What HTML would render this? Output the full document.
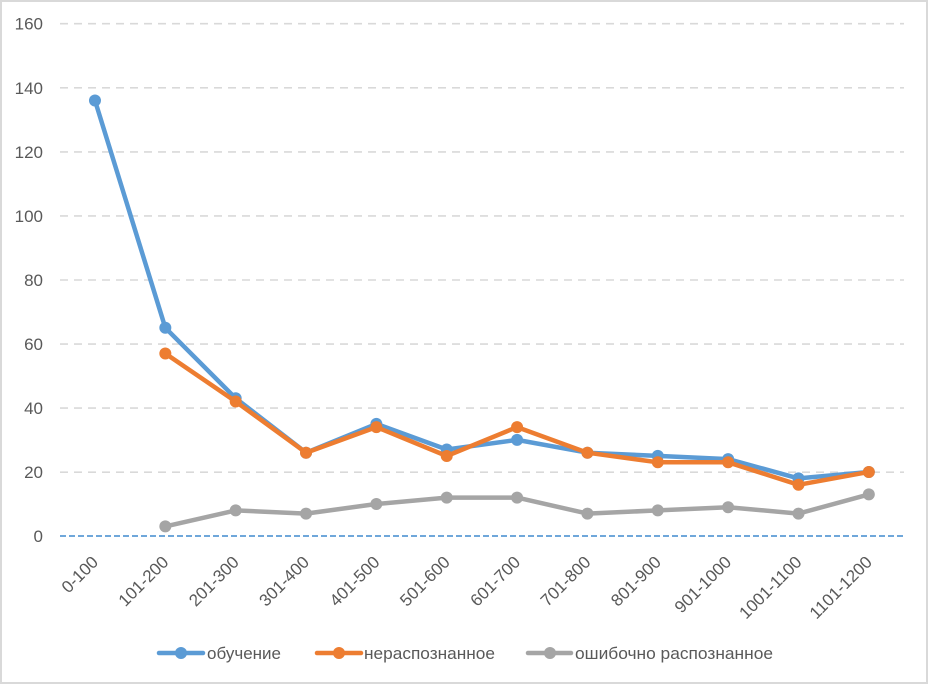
<!DOCTYPE html>
<html><head><meta charset="utf-8"><style>
html,body{margin:0;padding:0;background:#fff;}
svg{display:block;}
text{font-family:"Liberation Sans","DejaVu Sans",sans-serif;fill:#595959;}
</style></head><body>
<svg width="928" height="684" viewBox="0 0 928 684" xmlns="http://www.w3.org/2000/svg">
<rect x="0" y="0" width="928" height="684" fill="#fff"/>
<rect x="1" y="1" width="926" height="682" fill="none" stroke="#d9d9d9" stroke-width="2"/>
<g stroke="#d9d9d9" stroke-width="1.6" stroke-dasharray="8,6">
<line x1="60" y1="23.7" x2="904" y2="23.7"/>
<line x1="60" y1="87.8" x2="904" y2="87.8"/>
<line x1="60" y1="151.9" x2="904" y2="151.9"/>
<line x1="60" y1="215.9" x2="904" y2="215.9"/>
<line x1="60" y1="280" x2="904" y2="280"/>
<line x1="60" y1="344.1" x2="904" y2="344.1"/>
<line x1="60" y1="408.1" x2="904" y2="408.1"/>
<line x1="60" y1="472.2" x2="904" y2="472.2"/>
</g>
<line x1="60" y1="536" x2="904" y2="536" stroke="#5b9bd5" stroke-width="1.8" stroke-dasharray="6,3"/>
<g font-size="17" text-anchor="end">
<text x="43" y="29.7">160</text>
<text x="43" y="93.8">140</text>
<text x="43" y="157.9">120</text>
<text x="43" y="221.9">100</text>
<text x="43" y="286">80</text>
<text x="43" y="350.1">60</text>
<text x="43" y="414.1">40</text>
<text x="43" y="478.2">20</text>
<text x="43" y="542">0</text>
</g>
<g font-size="17" text-anchor="end">
<text transform="translate(95,559) rotate(-45)" dy="6">0-100</text>
<text transform="translate(165.3,559) rotate(-45)" dy="6">101-200</text>
<text transform="translate(235.7,559) rotate(-45)" dy="6">201-300</text>
<text transform="translate(306,559) rotate(-45)" dy="6">301-400</text>
<text transform="translate(376.4,559) rotate(-45)" dy="6">401-500</text>
<text transform="translate(446.7,559) rotate(-45)" dy="6">501-600</text>
<text transform="translate(517.1,559) rotate(-45)" dy="6">601-700</text>
<text transform="translate(587.4,559) rotate(-45)" dy="6">701-800</text>
<text transform="translate(657.8,559) rotate(-45)" dy="6">801-900</text>
<text transform="translate(728.1,559) rotate(-45)" dy="6">901-1000</text>
<text transform="translate(798.5,559) rotate(-45)" dy="6">1001-1100</text>
<text transform="translate(868.8,559) rotate(-45)" dy="6">1101-1200</text>
</g>
<!-- gray series -->
<g fill="#a5a5a5">
<polyline fill="none" stroke="#a5a5a5" stroke-width="4.5" stroke-linejoin="round" points="165.33,526.4 235.68,510.4 306.03,513.6 376.38,504 446.73,497.6 517.08,497.6 587.43,513.6 657.78,510.4 728.13,507.2 798.48,513.6 868.83,494.4"/>
<circle cx="165.33" cy="526.4" r="6"/><circle cx="235.68" cy="510.4" r="6"/><circle cx="306.03" cy="513.6" r="6"/><circle cx="376.38" cy="504" r="6"/><circle cx="446.73" cy="497.6" r="6"/><circle cx="517.08" cy="497.6" r="6"/><circle cx="587.43" cy="513.6" r="6"/><circle cx="657.78" cy="510.4" r="6"/><circle cx="728.13" cy="507.2" r="6"/><circle cx="798.48" cy="513.6" r="6"/><circle cx="868.83" cy="494.4" r="6"/>
</g>
<!-- blue series -->
<g fill="#5b9bd5">
<polyline fill="none" stroke="#5b9bd5" stroke-width="4.5" stroke-linejoin="round" points="94.98,100.5 165.33,327.8 235.68,398.3 306.03,452.7 376.38,423.9 446.73,449.5 517.08,439.9 587.43,452.7 657.78,455.9 728.13,459.1 798.48,478.4 868.83,471.95"/>
<circle cx="94.98" cy="100.5" r="6"/><circle cx="165.33" cy="327.8" r="6"/><circle cx="235.68" cy="398.3" r="6"/><circle cx="306.03" cy="452.7" r="6"/><circle cx="376.38" cy="423.9" r="6"/><circle cx="446.73" cy="449.5" r="6"/><circle cx="517.08" cy="439.9" r="6"/><circle cx="587.43" cy="452.7" r="6"/><circle cx="657.78" cy="455.9" r="6"/><circle cx="728.13" cy="459.1" r="6"/><circle cx="798.48" cy="478.4" r="6"/><circle cx="868.83" cy="471.95" r="6"/>
</g>
<!-- orange series -->
<g fill="#ed7d31">
<polyline fill="none" stroke="#ed7d31" stroke-width="4.5" stroke-linejoin="round" points="165.33,353.5 235.68,401.5 306.03,452.7 376.38,427.1 446.73,456 517.08,427.1 587.43,452.7 657.78,462.3 728.13,462.3 798.48,484.8 868.83,471.95"/>
<circle cx="165.33" cy="353.5" r="6"/><circle cx="235.68" cy="401.5" r="6"/><circle cx="306.03" cy="452.7" r="6"/><circle cx="376.38" cy="427.1" r="6"/><circle cx="446.73" cy="456" r="6"/><circle cx="517.08" cy="427.1" r="6"/><circle cx="587.43" cy="452.7" r="6"/><circle cx="657.78" cy="462.3" r="6"/><circle cx="728.13" cy="462.3" r="6"/><circle cx="798.48" cy="484.8" r="6"/><circle cx="868.83" cy="471.95" r="6"/>
</g>
<!-- legend -->
<g>
<line x1="159" y1="653" x2="203" y2="653" stroke="#5b9bd5" stroke-width="4.5" stroke-linecap="round"/>
<circle cx="181" cy="653" r="6" fill="#5b9bd5"/>
<text x="207" y="659" font-size="17" textLength="74" lengthAdjust="spacingAndGlyphs">обучение</text>
<line x1="317" y1="653" x2="361" y2="653" stroke="#ed7d31" stroke-width="4.5" stroke-linecap="round"/>
<circle cx="339" cy="653" r="6" fill="#ed7d31"/>
<text x="364" y="659" font-size="17" textLength="131" lengthAdjust="spacingAndGlyphs">нераспознанное</text>
<line x1="528" y1="653" x2="571" y2="653" stroke="#a5a5a5" stroke-width="4.5" stroke-linecap="round"/>
<circle cx="550" cy="653" r="6" fill="#a5a5a5"/>
<text x="575" y="659" font-size="17" textLength="198" lengthAdjust="spacingAndGlyphs">ошибочно распознанное</text>
</g>
</svg>
</body></html>
